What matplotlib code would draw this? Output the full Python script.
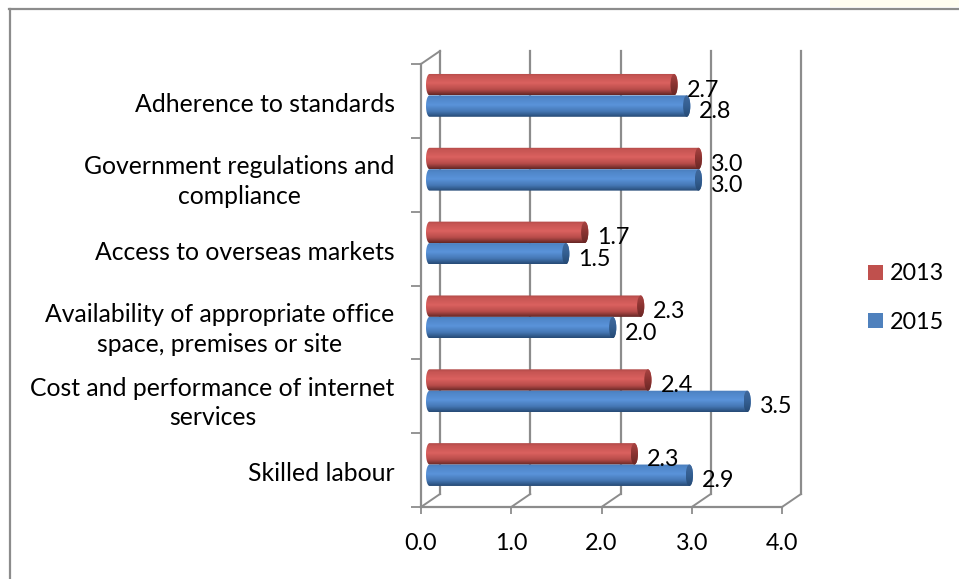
import numpy as np
import matplotlib
matplotlib.use("Agg")
import matplotlib.pyplot as plt
from matplotlib.colors import LinearSegmentedColormap
from matplotlib.patches import Ellipse, Patch, PathPatch
from matplotlib.path import Path
from matplotlib.transforms import offset_copy

plt.rcParams["font.family"] = ["Lato", "DejaVu Sans"]

categories = [
    "Adherence to standards",
    "Government regulations and\ncompliance",
    "Access to overseas markets",
    "Availability of appropriate office\nspace, premises or site",
    "Cost and performance of internet\nservices",
    "Skilled labour",
]
values_2013 = [2.70, 2.97, 1.71, 2.33, 2.41, 2.26]
values_2015 = [2.84, 2.97, 1.50, 2.02, 3.51, 2.87]
x_ticks = [0, 1, 2, 3, 4]

W, H = 959, 579
GREY = "#8c8c8c"
FS = 16.8
FS_CAT = 17.8

fig = plt.figure(figsize=(W / 100, H / 100), dpi=100)
# front plane of the fake 3d box, in pixels: x 421-782, y 64-507
ax = fig.add_axes([421 / W, 1 - 507 / H, 361 / W, 443 / H])
ax.patch.set_alpha(0)
ax.set_xlim(0, 4)
ax.set_ylim(6, 0)

# ========================================================================
#                           Walls
# ========================================================================
back = offset_copy(ax.transData, fig=fig, x=19, y=13, units="dots")
for k in x_ticks:
    ax.plot([k, k], [0, 6], color=GREY, lw=1.6, transform=back, clip_on=False, zorder=1)
    # floor diagonals
    x_px = ax.transData.transform((k, 6))
    ax.plot([x_px[0], x_px[0] + 19], [x_px[1], x_px[1] + 13], color=GREY, lw=1.4,
            transform=None, clip_on=False, zorder=1)
top_px = ax.transData.transform((0, 0))
ax.plot([top_px[0], top_px[0] + 19], [top_px[1], top_px[1] + 13], color=GREY, lw=1.4,
        transform=None, clip_on=False, zorder=1)

# ========================================================================
#                           Bars (cylinders)
# ========================================================================
red_map = LinearSegmentedColormap.from_list(
    "red", [(0, "#b04a48"), (0.12, "#c65553"), (0.45, "#db615f"), (0.75, "#b84c4a"), (1, "#642624")])
blue_map = LinearSegmentedColormap.from_list(
    "blue", [(0, "#4a7cbb"), (0.12, "#4f86c8"), (0.45, "#5a93da"), (0.75, "#4577b4"), (1, "#264a75")])
red_cap = LinearSegmentedColormap.from_list("redcap", ["#a94442", "#8a3331", "#6a2725"])
blue_cap = LinearSegmentedColormap.from_list("bluecap", ["#41699c", "#345f92", "#264a75"])
shade = np.linspace(0, 1, 64).reshape(-1, 1)

RX = 3.6 / 90.25
X0 = 5 / 90.25
X_EXTRA = 13 / 90.25
BAR_H = 0.29
GROUP_SHIFT = -0.075


def draw_cylinder(value, yc, cmap, cap_map):
    x_end = value + X_EXTRA
    y0, y1 = yc - BAR_H / 2, yc + BAR_H / 2
    t = np.linspace(-np.pi / 2, np.pi / 2, 30)
    right_x = x_end - RX + RX * np.cos(t)
    right_y = yc + BAR_H / 2 * np.sin(t)
    left_x = X0 + RX - RX * np.cos(t[::-1])
    left_y = yc + BAR_H / 2 * np.sin(t[::-1])
    verts = np.column_stack([np.r_[right_x, left_x], np.r_[right_y, left_y]])
    body = PathPatch(Path(np.vstack([verts, verts[0]]), closed=True), fc="none", ec="none",
                     transform=ax.transData)
    ax.add_patch(body)
    im = ax.imshow(shade, cmap=cmap, aspect="auto", extent=[X0, x_end, y1, y0], zorder=3,
                   interpolation="bilinear", origin="upper")
    im.set_clip_path(body)

    cap = Ellipse((x_end - RX, yc), 2 * RX, BAR_H, fc="none", ec="none", transform=ax.transData)
    ax.add_patch(cap)
    im2 = ax.imshow(shade, cmap=cap_map, aspect="auto", extent=[x_end - 2 * RX, x_end, y1, y0],
                    zorder=4, interpolation="bilinear", origin="upper")
    im2.set_clip_path(cap)

    ax.annotate(f"{value:.1f}", (x_end, yc), xytext=(9 * 0.72, -4), textcoords="offset points",
                ha="left", va="center", fontsize=FS, color="black", zorder=6, annotation_clip=False)


for i in range(len(categories)):
    yc = i + 0.5 + GROUP_SHIFT
    draw_cylinder(values_2013[i], yc - BAR_H / 2, red_map, red_cap)
    draw_cylinder(values_2015[i], yc + BAR_H / 2, blue_map, blue_cap)

# ========================================================================
#                           Axes
# ========================================================================
ax.set_xlim(0, 4)
ax.set_ylim(6, 0)
for s in ["top", "right"]:
    ax.spines[s].set_visible(False)
for s in ["left", "bottom"]:
    ax.spines[s].set_color(GREY)
    ax.spines[s].set_linewidth(1.6)
    ax.spines[s].set_zorder(2)

ax.set_xticks(x_ticks)
ax.set_xticklabels([f"{k:.1f}" for k in x_ticks], fontsize=FS)
ax.tick_params(axis="x", length=5, width=1.3, color=GREY, pad=14)
ax.set_yticks(range(7))
ax.set_yticklabels([])
ax.tick_params(axis="y", which="major", length=7, width=1.3, color=GREY)
ax.set_yticks(np.arange(6) + 0.52, minor=True)
ax.set_yticklabels(categories, minor=True, fontsize=FS_CAT, multialignment="center",
                   linespacing=1.35)
ax.tick_params(axis="y", which="minor", length=0, pad=19)

# ========================================================================
#                           Legend, frame
# ========================================================================
handles = [Patch(fc="#c0504d", label="2013"), Patch(fc="#4f81bd", label="2015")]
fig.legend(handles=handles, loc="center left", bbox_to_anchor=(868 / W, 1 - 298 / H),
           frameon=False, fontsize=FS, handlelength=0.64, handleheight=0.64,
           handletextpad=0.3, labelspacing=1.16, borderpad=0, borderaxespad=0)

# chart border only shows on the left and top, image is cropped
fig.add_artist(plt.Line2D([9.5 / W, 9.5 / W], [0, 1 - 8.5 / H], color=GREY, lw=1.6))
fig.add_artist(plt.Line2D([9 / W, 1], [1 - 8.5 / H, 1 - 8.5 / H], color=GREY, lw=1.6))
fig.patches.append(plt.Rectangle((830 / W, 1 - 7 / H), 129 / W, 7 / H, transform=fig.transFigure,
                                 fc="#fffdf0", ec="none"))

fig.savefig("out.png", dpi=100)
